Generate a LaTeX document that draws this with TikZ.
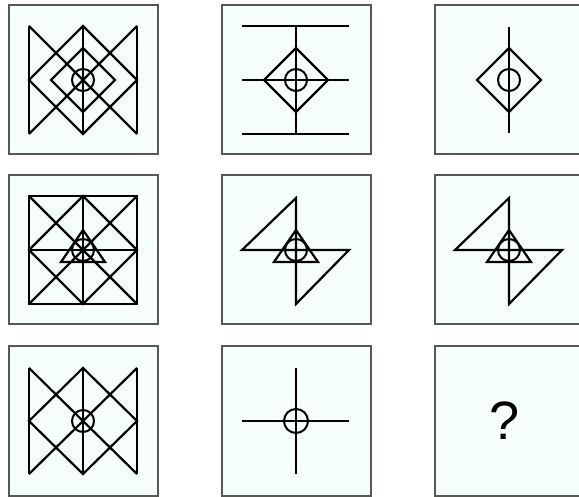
\documentclass[tikz,border=0pt]{standalone}
\usepackage{fontspec}
\setmainfont{Liberation Sans}
\definecolor{boxgrey}{RGB}{88,88,82}
\definecolor{boxcyan}{RGB}{246,253,253}

\begin{document}
\begin{tikzpicture}[x=1pt,y=-1pt,
    panel/.style={draw=boxgrey,fill=boxcyan,line width=2pt,minimum size=149pt,inner sep=0pt},
    fig/.style={line width=2.2pt,line join=miter},
    ring/.style={line width=2pt}]
  \useasboundingbox (0,0) rectangle (579,497);
  % Panels
  \foreach \c/\x in {1/83,2/296,3/509}{
    \foreach \r/\y in {1/80,2/250,3/421}{
      \node[panel] (p\r\c) at (\x,\y) {};
    }
  }
  % Row 1
  \begin{scope}[shift={(p11.center)}]
    \draw[fig] (-54,-54) -- (-54,54) (0,-54) -- (0,54) (54,-54) -- (54,54);
    \draw[fig] (-54,-54) -- (54,54) (54,-54) -- (-54,54);
    \draw[fig] (-54,0) -- (0,-54) -- (54,0) -- (0,54) -- cycle;
    \draw[fig] (-32,0) -- (0,-32) -- (32,0) -- (0,32) -- cycle;
    \draw[ring] (0,0) circle[radius=11pt];
  \end{scope}
  \begin{scope}[shift={(p12.center)}]
    \foreach \y in {-54,0,54}
      \draw[fig] (-54,\y) -- (53,\y);
    \draw[fig] (0,-54) -- (0,54);
    \draw[fig] (-32,0) -- (0,-32) -- (32,0) -- (0,32) -- cycle;
    \draw[ring] (0,0) circle[radius=11pt];
  \end{scope}
  \begin{scope}[shift={(p13.center)}]
    \draw[fig] (0,-53) -- (0,53);
    \draw[fig] (-32,0) -- (0,-32) -- (32,0) -- (0,32) -- cycle;
    \draw[ring] (0,0) circle[radius=11pt];
  \end{scope}
  % Row 2
  \begin{scope}[shift={(p21.center)}]
    \draw[fig] (-54,-54) rectangle (54,54);
    \draw[fig] (0,-54) -- (0,54) (-54,0) -- (54,0);
    \draw[fig] (-54,-54) -- (54,54) (54,-54) -- (-54,54);
    \draw[fig] (-54,0) -- (0,-54) -- (54,0) -- (0,54) -- cycle;
    \draw[fig] (0,-20) -- (22,12) -- (-22,12) -- cycle;
    \draw[ring] (0,0) circle[radius=11pt];
  \end{scope}
  \foreach \p in {p22,p23}{
    \begin{scope}[shift={(\p.center)}]
      \draw[fig] (0,-52) -- (-54,0) -- (53,0) -- (0,54) -- cycle;
      \draw[fig] (0,-20) -- (22,12) -- (-22,12) -- cycle;
      \draw[ring] (0,0) circle[radius=11pt];
    \end{scope}
  }
  % Row 3
  \begin{scope}[shift={(p31.center)}]
    \draw[fig] (-54,-53) -- (-54,53) (0,-53) -- (0,53) (54,-53) -- (54,53);
    \draw[fig] (-54,-53) -- (54,53) (54,-53) -- (-54,53);
    \draw[fig] (-54,0) -- (0,-53) -- (54,0) -- (0,53) -- cycle;
    \draw[ring] (0,0) circle[radius=11pt];
  \end{scope}
  \begin{scope}[shift={(p32.center)}]
    \draw[fig] (0,-53) -- (0,53) (-54,0) -- (53,0);
    \draw[ring] (0,0) circle[radius=12pt];
  \end{scope}
  \node[font=\fontsize{54}{60}\selectfont] (ask) at ([xshift=-4pt]p33.center) {?};
\end{tikzpicture}
\end{document}
